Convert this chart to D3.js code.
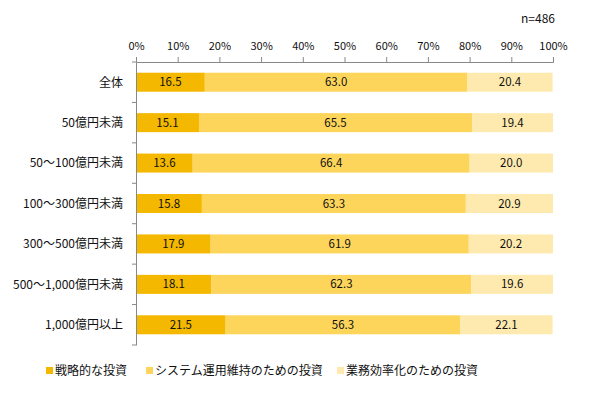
<!DOCTYPE html>
<html><head><meta charset="utf-8">
<script src="https://cdn.jsdelivr.net/npm/d3@7"></script>
<style>body{margin:0;background:#fff}svg{display:block}text{font-family:"Noto Sans CJK JP","Noto Sans",sans-serif;fill:#111}</style>
</head><body>
<svg id="c" width="591" height="400"></svg>
<script>
const categories = ["全体","50億円未満","50～100億円未満","100～300億円未満","300～500億円未満","500～1,000億円未満","1,000億円以上"];
const seriesNames = ["戦略的な投資","システム運用維持のための投資","業務効率化のための投資"];
const strategic = [16.5,15.1,13.6,15.8,17.9,18.1,21.5];
const maintenance = [63.0,65.5,66.4,63.3,61.9,62.3,56.3];
const efficiency = [20.4,19.4,20.0,20.9,20.2,19.6,22.1];
const xTicks = [0,10,20,30,40,50,60,70,80,90,100];
const colors = ["#F5B800","#FDD55B","#FEEAAE"];

const svg = d3.select("#c");
const x = d3.scaleLinear().domain([0,100]).range([136,553]);
const y = d3.scaleBand().domain(categories).range([62,345]).paddingInner(0.53).paddingOuter(0.265);

const rows = categories.map((c,i)=>({cat:c, s0:strategic[i], s1:maintenance[i], s2:efficiency[i]}));
const stack = d3.stack().keys(["s0","s1","s2"])(rows);

stack.forEach((layer,k)=>{
  const g = svg.append("g");
  g.selectAll("rect").data(layer).join("rect")
    .attr("x",d=>x(d[0])).attr("width",d=>x(d[1])-x(d[0]))
    .attr("y",d=>y(d.data.cat)).attr("height",y.bandwidth())
    .attr("fill",colors[k]);
  g.selectAll("text").data(layer).join("text")
    .attr("x",d=>(x(d[0])+x(d[1]))/2).attr("y",d=>y(d.data.cat)+y.bandwidth()/2)
    .attr("dy","0.36em").attr("text-anchor","middle").style("font-size","11.5px")
    .text(d=>(d[1]-d[0]).toFixed(1));
});

// top axis
const xa = svg.append("g").attr("transform","translate(0,62)")
  .call(d3.axisTop(x).tickValues(xTicks).tickFormat(d=>d+"%").tickSize(5).tickSizeOuter(5));
xa.selectAll("path,line").attr("stroke","#888");
xa.selectAll("text").style("font-size","11px").attr("y",-12).attr("fill","#111");

// left axis
const yb = d3.scaleBand().domain(categories).range([62,345]);
const ya = svg.append("g").attr("transform","translate(136,0)")
  .call(d3.axisLeft(yb).tickValues([]).tickSize(0).tickSizeOuter(0));
ya.select("path").attr("stroke","#888");
const bounds = d3.range(categories.length+1).map(i=>62+i*yb.step());
svg.append("g").selectAll("line").data(bounds).join("line")
  .attr("x1",132).attr("x2",136).attr("y1",d=>d).attr("y2",d=>d).attr("stroke","#888");
svg.append("g").selectAll("text").data(categories).join("text")
  .attr("x",123).attr("y",d=>yb(d)+yb.step()/2).attr("dy","0.36em")
  .attr("text-anchor","end").style("font-size","12px").text(d=>d);

svg.append("text").attr("x",555).attr("y",23).attr("text-anchor","end").style("font-size","12px").text("n=486");

// legend
const legX = [46,146,337];
const lg = svg.append("g");
seriesNames.forEach((n,i)=>{
  lg.append("rect").attr("x",legX[i]).attr("y",367).attr("width",7).attr("height",7).attr("fill",colors[i]);
  lg.append("text").attr("x",legX[i]+9).attr("y",371).attr("dy","0.36em").style("font-size","12px").text(n);
});
</script>
</body></html>
